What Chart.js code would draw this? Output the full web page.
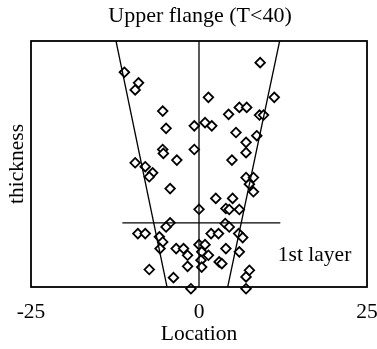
<!DOCTYPE html>
<html>
<head>
<meta charset="utf-8">
<script src="https://cdn.jsdelivr.net/npm/chart.js@4/dist/chart.umd.min.js"></script>
<style>
  body { margin: 0; background: #fff; }
  canvas { display: block; }
</style>
</head>
<body>
<canvas id="myChart" width="377" height="349"></canvas>
<script>
// measured points (location, relative thickness 0-100)
const locX = [-11.1, -9.0, -9.5, -5.4, -4.9, -5.4, -5.3, -3.3, -9.5, -8.0, -6.9, -7.4, -4.3, -0.7, -0.7,
  1.4, 0.9, 1.9, 4.4, 6.0, 7.1, 9.1, 11.2, 9.0, 9.6, 5.5, 8.6, 7.0, 7.0, 4.9, 7.0, 8.1, 7.5, 8.1,
  2.5, 5.0, 4.0, 4.5, 6.0, 0.0, -4.3, -4.9, 3.9, 4.5, -9.1, -8.0, -5.9, -5.4, -5.8, -3.4, -2.3,
  -1.7, 0.0, 0.9, 0.4, 1.4, 0.3, 0.4, 1.8, 2.9, 4.0, 3.0, 3.4, 5.9, 6.5, 6.0, -1.7, -7.4, -3.8,
  -1.2, 7.0, 7.0, 7.5];
const thick = [87.3, 83.0, 80.1, 71.5, 64.5, 55.9, 54.3, 51.6, 50.5, 48.9, 46.4, 44.8, 40.0, 65.5, 55.9,
  77.1, 66.8, 65.5, 70.2, 73.0, 73.0, 91.2, 77.1, 69.9, 69.9, 62.8, 61.5, 58.8, 54.6, 51.6, 44.5, 44.5, 41.8, 38.7,
  36.0, 36.0, 31.9, 31.5, 31.5, 31.6, 26.1, 24.4, 25.8, 24.4, 21.7, 21.7, 20.4, 18.3, 15.6, 15.6, 15.6,
  12.9, 17.2, 17.2, 14.3, 12.9, 10.9, 8.1, 21.7, 21.7, 15.6, 10.2, 9.5, 21.7, 20.1, 14.3, 8.4, 7.1, 3.8,
  -0.7, -0.7, 4.1, 6.8];

// envelope lines and 1st layer boundary
const leftLine = [[-12.35, 100], [-4.76, 0]];
const rightLine = [[12.0, 100], [4.27, 0]];
const centerLine = [[0, 0], [0, 100]];
const layerLine = [[-11.4, 26.1], [12.1, 26.1]];
const xTicks = [-25, 0, 25];

const serif = 'Liberation Serif';

function toPts(arr) {
  return arr.map(function (p) { return { x: p[0], y: p[1] }; });
}

function lineSet(arr) {
  return {
    data: toPts(arr),
    showLine: true,
    borderColor: '#000',
    borderWidth: 1.3,
    pointRadius: 0,
    fill: false
  };
}

// frame, title over the plot area, and the "1st layer" label
const boxAndText = {
  id: 'boxAndText',
  afterDatasetsDraw(chart) {
    const c = chart.ctx;
    const a = chart.chartArea;
    c.save();
    c.strokeStyle = '#000';
    c.lineWidth = 1.8;
    c.strokeRect(a.left, a.top, a.right - a.left, a.bottom - a.top);
    c.fillStyle = '#000';
    c.textAlign = 'center';
    c.textBaseline = 'middle';
    c.font = '22px "' + serif + '"';
    c.fillText('Upper flange (T<40)', (a.left + a.right) / 2 + 1, 16);
    c.font = '21.5px "' + serif + '"';
    c.fillText('1st layer', chart.scales.x.getPixelForValue(17.2), chart.scales.y.getPixelForValue(12.9));
    c.restore();
  }
};

const ctx = document.getElementById('myChart').getContext('2d');
const myChart = new Chart(ctx, {
  type: 'scatter',
  data: {
    datasets: [
      lineSet(leftLine),
      lineSet(rightLine),
      lineSet(centerLine),
      lineSet(layerLine),
      {
        data: locX.map(function (x, i) { return { x: x, y: thick[i] }; }),
        pointStyle: 'rectRot',
        pointRadius: 4.8,
        pointBackgroundColor: '#fff',
        pointBorderColor: '#000',
        pointBorderWidth: 1.8,
        clip: false
      }
    ]
  },
  options: {
    responsive: false,
    animation: false,
    layout: { padding: { left: 0, right: 10, top: 41, bottom: 0 } },
    plugins: {
      legend: { display: false },
      tooltip: { enabled: false },
      title: { display: false }
    },
    scales: {
      x: {
        type: 'linear',
        min: -25,
        max: 25,
        afterBuildTicks(scale) {
          scale.ticks = xTicks.map(function (v) { return { value: v }; });
        },
        afterFit(scale) {
          scale.height = 62;
          scale.paddingLeft = 0;
          scale.paddingRight = 0;
        },
        grid: { display: false, drawTicks: false },
        border: { display: false },
        ticks: {
          color: '#000',
          padding: 12,
          maxRotation: 0,
          font: { family: serif, size: 21.5 }
        },
        title: {
          display: true,
          text: 'Location',
          color: '#000',
          font: { family: serif, size: 21.5 },
          padding: { top: 0, bottom: 2 }
        }
      },
      y: {
        type: 'linear',
        min: 0,
        max: 100,
        afterFit(scale) {
          scale.width = 31;
        },
        grid: { display: false, drawTicks: false },
        border: { display: false },
        ticks: { display: false },
        title: {
          display: true,
          text: 'thickness',
          color: '#000',
          font: { family: serif, size: 21.5 },
          padding: { top: 4, bottom: 0 }
        }
      }
    }
  },
  plugins: [boxAndText]
});
</script>
</body>
</html>
